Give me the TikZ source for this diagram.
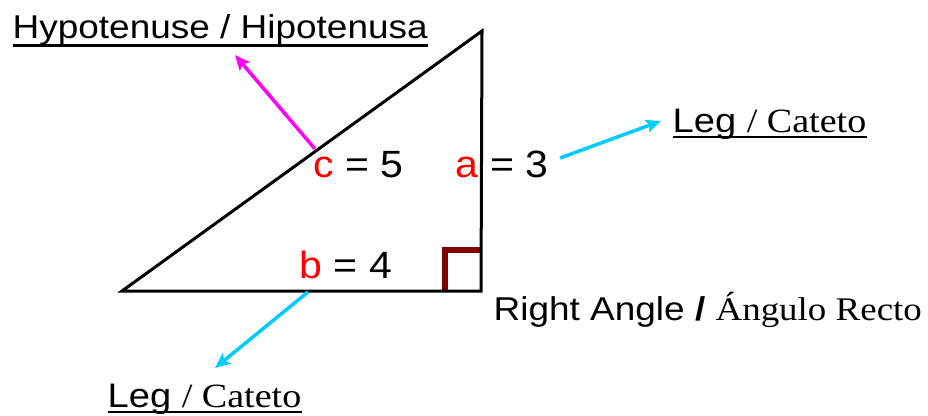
\documentclass[tikz,border=0pt]{standalone}
\usepackage{fontspec}
\newfontfamily\arialx{Liberation Sans}[FakeStretch=1.12]
\newfontfamily\arialv{Liberation Sans}[FakeStretch=1.08]
\newfontfamily\tnrx{Liberation Serif}[FakeStretch=1.12]
\usetikzlibrary{arrows.meta}
\definecolor{legcyan}{RGB}{0,204,255}
\definecolor{hypmag}{RGB}{255,0,255}
\definecolor{anglered}{RGB}{128,0,0}
\definecolor{varred}{RGB}{255,0,0}
\begin{document}
\begin{tikzpicture}[x=1pt,y=-1pt,
  lbl/.style={inner sep=0pt, anchor=base west},
  valtxt/.style={lbl, font={\arialv\fontsize{38}{38}\selectfont}},
  legtxt/.style={lbl, font={\arialx\fontsize{34}{34}\selectfont}},
  tri/.style={line width=3pt, line join=miter},
  pointer/.style={line width=3.5pt, -{Stealth[length=15pt,width=13pt,inset=3pt]}},
  uline/.style={line width=2.5pt}]
\useasboundingbox (0,0) rectangle (928,415);
% right angle marker
\coordinate (m1) at (445,291);
\coordinate (m2) at (445,250);
\coordinate (m3) at (481,250);
\draw[line width=6.5pt, anglered, line join=miter] (m1) -- (m2) -- (m3);
% triangle
\coordinate (A) at (122,291);
\coordinate (B) at (481,291);
\coordinate (C) at (482,31);
\draw[tri] (A) -- (B) -- (C) -- cycle;
% values
\node[valtxt] (cval) at (313.5,177) {\textcolor{varred}{c} = 5};
\node[valtxt] (aval) at (455.7,177) {\textcolor{varred}{a} = 3};
\node[valtxt] (bval) at (299.5,278) {\textcolor{varred}{b} = 4};
% labels
\node[lbl, font={\arialx\fontsize{33}{33}\selectfont}] (hyp) at (12.5,38) {Hypotenuse / Hipotenusa};
\draw[uline] ([yshift=-7.5pt]hyp.base west) -- ([yshift=-7.5pt]hyp.base east);
\node[legtxt] (legA) at (672.5,132) {Leg {\tnrx / Cateto}};
\draw[uline] ([yshift=-5pt]legA.base west) -- ([yshift=-5pt]legA.base east);
\node[legtxt] (legB) at (107.5,407) {Leg {\tnrx / Cateto}};
\draw[uline] ([yshift=-5pt]legB.base west) -- ([yshift=-5pt]legB.base east);
\node[lbl, font={\arialx\fontsize{33}{33}\selectfont}] (ra) at (493.5,320) {Right Angle {\bfseries /} {\tnrx Ángulo Recto}};
% pointers
\coordinate (hypfoot) at (315,149);
\coordinate (hyptip) at (235,55);
\draw[pointer, hypmag] (hypfoot) -- (hyptip);
\coordinate (afoot) at (560,158);
\coordinate (atip) at (661,121);
\draw[pointer, legcyan] (afoot) -- (atip);
\coordinate (bfoot) at (308,292);
\coordinate (btip) at (215,368);
\draw[pointer, legcyan] (bfoot) -- (btip);
\end{tikzpicture}
\end{document}
